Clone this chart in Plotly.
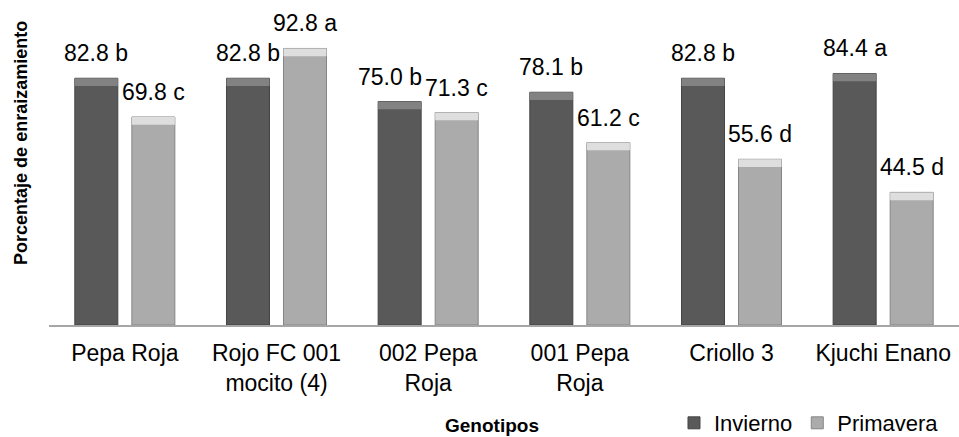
import plotly.graph_objects as go

# Rooting percentage per genotype and season
genotipos = ["Pepa Roja", "Rojo FC 001<br>mocito (4)", "002 Pepa<br>Roja",
             "001 Pepa<br>Roja", "Criollo 3", "Kjuchi Enano"]
invierno = [82.8, 82.8, 75.0, 78.1, 82.8, 84.4]
primavera = [69.8, 92.8, 71.3, 61.2, 55.6, 44.5]
letras_invierno = ["b", "b", "b", "b", "b", "a"]
letras_primavera = ["c", "a", "c", "c", "d", "d"]

FONT = "Liberation Sans, Arial, Helvetica, sans-serif"
W, H = 959, 437
ML, MR, MT, MB = 49, 0, 27, 112
BARGAP, BARGROUPGAP = 0.248, 0.246
BEVEL = 2.6  # depth of the lighter top edge, in axis units

series = [
    ("Invierno", invierno, letras_invierno, "#595959", "#444444", "#828282"),
    ("Primavera", primavera, letras_primavera, "#ababab", "#858585", "#dedede"),
]
# horizontal nudge (px) for labels that would collide with a neighbour
nudge = {("Invierno", 2): -10}

fig = go.Figure()
for name, vals, _, fill, edge, top in series:
    fig.add_trace(go.Bar(
        name=name, x=genotipos, y=vals, offsetgroup=name,
        marker=dict(color=fill, line=dict(color=edge, width=1)),
    ))
for name, vals, _, fill, edge, top in series:
    # bevelled top edge of each bar
    fig.add_trace(go.Bar(
        x=genotipos, y=[BEVEL] * len(vals), base=[v - BEVEL for v in vals],
        offsetgroup=name, showlegend=False, hoverinfo="skip",
        marker=dict(color=top, line=dict(width=0)),
    ))

# value labels above each bar, offset to the bar's slot within its group
cat_px = (W - ML - MR) / len(genotipos)
slot_px = cat_px * (1 - BARGAP) / 2
for k, (name, vals, letters, *_rest) in enumerate(series):
    for i, (g, v, l) in enumerate(zip(genotipos, vals, letters)):
        fig.add_annotation(
            x=g, y=v, text=f"{v:.1f} {l}", showarrow=False,
            xshift=(k - 0.5) * slot_px + nudge.get((name, i), 0),
            yshift=10, yanchor="bottom",
            font=dict(family=FONT, size=23, color="#000000"),
        )

fig.add_annotation(
    text="<b>Porcentaje de enraizamiento</b>", textangle=-90,
    xref="paper", yref="paper", x=-0.03, y=0.61, xanchor="center", yanchor="middle",
    showarrow=False, font=dict(family=FONT, size=18, color="#000000"),
)
fig.add_annotation(
    text="<b>Genotipos</b>", xref="paper", yref="paper",
    x=0.487, y=-0.338, xanchor="center", yanchor="middle",
    showarrow=False, font=dict(family=FONT, size=19, color="#000000"),
)

fig.update_layout(
    width=W, height=H,
    margin=dict(l=ML, r=MR, t=MT, b=MB, autoexpand=False),
    barmode="group", bargap=BARGAP, bargroupgap=BARGROUPGAP,
    plot_bgcolor="white", paper_bgcolor="white",
    font=dict(family=FONT, size=22, color="#000000"),
    showlegend=True,
    legend=dict(orientation="h", x=0.9835, xanchor="right",
                yref="container", y=0.032, yanchor="middle",
                font=dict(family=FONT, size=22), itemwidth=30,
                bgcolor="rgba(0,0,0,0)"),
    xaxis=dict(showline=True, linecolor="#a6a6a6", linewidth=1.5, ticks="",
               showgrid=False, tickfont=dict(family=FONT, size=23),
               ticklabelstandoff=7, automargin=False),
    yaxis=dict(range=[0, 100], visible=False, showgrid=False, automargin=False),
)

fig.write_html("out.html")
